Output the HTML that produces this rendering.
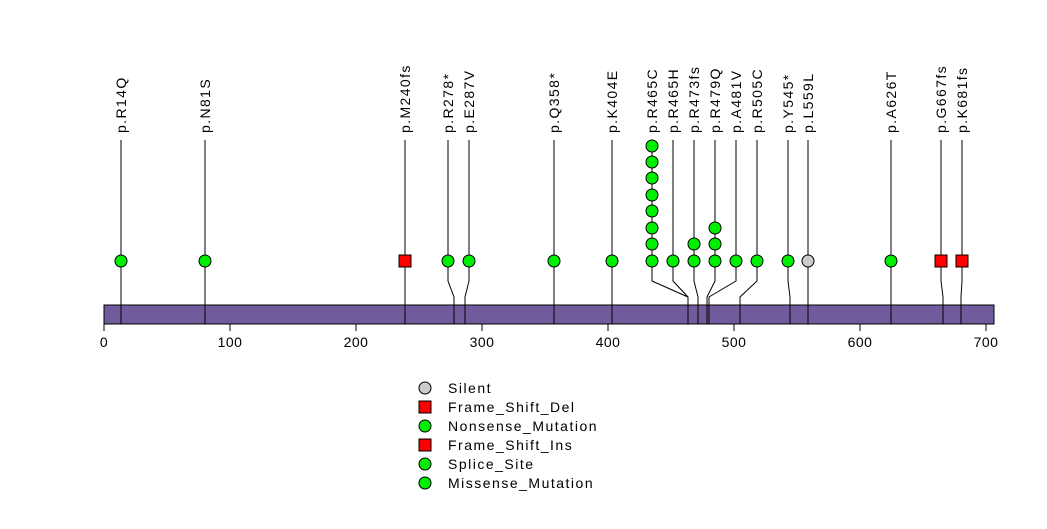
<!DOCTYPE html>
<html><head><meta charset="utf-8"><style>
html,body{margin:0;padding:0;background:#fff;}
svg text{font-family:"Liberation Sans",sans-serif;}
</style></head><body>
<svg width="1047" height="524" viewBox="0 0 1047 524" xmlns="http://www.w3.org/2000/svg">
<rect width="1047" height="524" fill="#fff"/>
<g stroke="#000" stroke-width="1" fill="none">
<polyline points="121,140 121,324"/>
<polyline points="205,140 205,324"/>
<polyline points="405,140 405,324"/>
<polyline points="448,140 448,281 454,297 454,324"/>
<polyline points="469,140 469,281 465,297 465,324"/>
<polyline points="554,140 554,324"/>
<polyline points="612,140 612,324"/>
<polyline points="652,140 652,281 688,297 688,324"/>
<polyline points="673,140 673,281 688,297 688,324"/>
<polyline points="694,140 694,281 698,297 698,324"/>
<polyline points="715,140 715,281 707,297 707,324"/>
<polyline points="736,140 736,281 709,297 709,324"/>
<polyline points="757,140 757,281 740,297 740,324"/>
<polyline points="788,140 788,281 790,297 790,324"/>
<polyline points="808,140 808,324"/>
<polyline points="891,140 891,324"/>
<polyline points="941,140 941,281 943,297 943,324"/>
<polyline points="962,140 962,281 961,297 961,324"/>
</g>
<rect x="104" y="305" width="890" height="19" fill="#705b9d" stroke="#000" stroke-width="1"/>
<g stroke="#000" stroke-width="1">
<line x1="121" y1="305" x2="121" y2="324"/><line x1="205" y1="305" x2="205" y2="324"/>
<line x1="405" y1="305" x2="405" y2="324"/><line x1="454" y1="305" x2="454" y2="324"/>
<line x1="465" y1="305" x2="465" y2="324"/><line x1="554" y1="305" x2="554" y2="324"/>
<line x1="612" y1="305" x2="612" y2="324"/><line x1="688" y1="305" x2="688" y2="324"/>
<line x1="698" y1="305" x2="698" y2="324"/><line x1="707" y1="305" x2="707" y2="324"/>
<line x1="709" y1="305" x2="709" y2="324"/><line x1="740" y1="305" x2="740" y2="324"/>
<line x1="790" y1="305" x2="790" y2="324"/><line x1="808" y1="305" x2="808" y2="324"/>
<line x1="891" y1="305" x2="891" y2="324"/><line x1="943" y1="305" x2="943" y2="324"/>
<line x1="961" y1="305" x2="961" y2="324"/>
<line x1="104" y1="324" x2="986" y2="324"/>
<line x1="104" y1="324" x2="104" y2="331"/><line x1="230" y1="324" x2="230" y2="331"/>
<line x1="356" y1="324" x2="356" y2="331"/><line x1="482" y1="324" x2="482" y2="331"/>
<line x1="608" y1="324" x2="608" y2="331"/><line x1="734" y1="324" x2="734" y2="331"/>
<line x1="860" y1="324" x2="860" y2="331"/><line x1="986" y1="324" x2="986" y2="331"/>
</g>
<g font-size="14" text-anchor="middle" fill="#000" letter-spacing="0.5">
<text x="104" y="347">0</text><text x="230" y="347">100</text><text x="356" y="347">200</text>
<text x="482" y="347">300</text><text x="608" y="347">400</text><text x="734" y="347">500</text>
<text x="860" y="347">600</text><text x="986" y="347">700</text>
</g>
<g stroke="#000" stroke-width="1" fill="#00ee00">
<circle cx="121" cy="261" r="6"/><circle cx="205" cy="261" r="6"/>
<circle cx="448" cy="261" r="6"/><circle cx="469" cy="261" r="6"/>
<circle cx="554" cy="261" r="6"/><circle cx="612" cy="261" r="6"/>
<circle cx="652" cy="261" r="6"/><circle cx="652" cy="244" r="6"/><circle cx="652" cy="228" r="6"/>
<circle cx="652" cy="211" r="6"/><circle cx="652" cy="195" r="6"/><circle cx="652" cy="178" r="6"/>
<circle cx="652" cy="162" r="6"/><circle cx="652" cy="146" r="6"/>
<circle cx="673" cy="261" r="6"/>
<circle cx="694" cy="261" r="6"/><circle cx="694" cy="244" r="6"/>
<circle cx="715" cy="261" r="6"/><circle cx="715" cy="244" r="6"/><circle cx="715" cy="228" r="6"/>
<circle cx="736" cy="261" r="6"/><circle cx="757" cy="261" r="6"/>
<circle cx="788" cy="261" r="6"/><circle cx="891" cy="261" r="6"/>
<circle cx="808" cy="261" r="6" fill="#cccccc"/>
<rect x="399" y="255" width="12" height="12" fill="#ff0000"/>
<rect x="935" y="255" width="12" height="12" fill="#ff0000"/>
<rect x="956" y="255" width="12" height="12" fill="#ff0000"/>
</g>
<g font-size="14" fill="#000" letter-spacing="1.4">
<text transform="translate(126,133) rotate(-90)">p.R14Q</text>
<text transform="translate(210,133) rotate(-90)">p.N81S</text>
<text transform="translate(410,133) rotate(-90)">p.M240fs</text>
<text transform="translate(453,133) rotate(-90)">p.R278*</text>
<text transform="translate(474,133) rotate(-90)">p.E287V</text>
<text transform="translate(559,133) rotate(-90)">p.Q358*</text>
<text transform="translate(617,133) rotate(-90)">p.K404E</text>
<text transform="translate(657,133) rotate(-90)">p.R465C</text>
<text transform="translate(678,133) rotate(-90)">p.R465H</text>
<text transform="translate(699,133) rotate(-90)">p.R473fs</text>
<text transform="translate(720,133) rotate(-90)">p.R479Q</text>
<text transform="translate(741,133) rotate(-90)">p.A481V</text>
<text transform="translate(762,133) rotate(-90)">p.R505C</text>
<text transform="translate(793,133) rotate(-90)">p.Y545*</text>
<text transform="translate(813,133) rotate(-90)">p.L559L</text>
<text transform="translate(896,133) rotate(-90)">p.A626T</text>
<text transform="translate(946,133) rotate(-90)">p.G667fs</text>
<text transform="translate(967,133) rotate(-90)">p.K681fs</text>
</g>
<g stroke="#000" stroke-width="1">
<circle cx="425" cy="388" r="6" fill="#cccccc"/>
<rect x="419" y="401" width="12" height="12" fill="#ff0000"/>
<circle cx="425" cy="426" r="6" fill="#00ee00"/>
<rect x="419" y="439" width="12" height="12" fill="#ff0000"/>
<circle cx="425" cy="464" r="6" fill="#00ee00"/>
<circle cx="425" cy="483" r="6" fill="#00ee00"/>
</g>
<g font-size="14" fill="#000" letter-spacing="1.5">
<text x="448" y="393">Silent</text>
<text x="448" y="412">Frame_Shift_Del</text>
<text x="448" y="431">Nonsense_Mutation</text>
<text x="448" y="450">Frame_Shift_Ins</text>
<text x="448" y="469">Splice_Site</text>
<text x="448" y="488">Missense_Mutation</text>
</g>
</svg>
</body></html>
